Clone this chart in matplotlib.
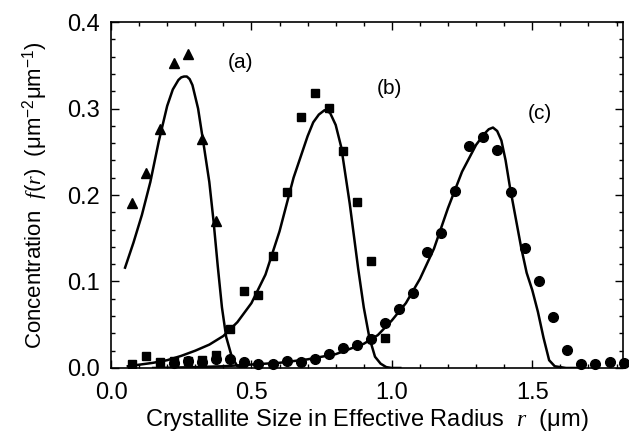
import matplotlib
matplotlib.use("Agg")
import matplotlib.pyplot as plt
from matplotlib.ticker import MultipleLocator

plt.rcParams['font.family'] = ['Liberation Sans', 'DejaVu Sans']
plt.rcParams['mathtext.fontset'] = 'custom'
plt.rcParams['mathtext.rm'] = 'Liberation Sans'
plt.rcParams['mathtext.it'] = 'Liberation Serif:italic'

# measured points (a) triangles
xa_pts = [0.075, 0.125, 0.175, 0.225, 0.275, 0.325, 0.375]
ya_pts = [0.191, 0.226, 0.276, 0.353, 0.363, 0.265, 0.170]

# measured points (b) squares
xb_pts = [0.075, 0.125, 0.175, 0.225, 0.275, 0.325, 0.375, 0.425, 0.475, 0.525,
          0.575, 0.625, 0.675, 0.725, 0.775, 0.825, 0.875, 0.925, 0.975]
yb_pts = [0.005, 0.014, 0.007, 0.008, 0.008, 0.009, 0.015, 0.045, 0.089, 0.084,
          0.130, 0.203, 0.290, 0.318, 0.301, 0.251, 0.192, 0.124, 0.035]

# measured points (c) circles
xc_pts = [0.225, 0.275, 0.325, 0.375, 0.425, 0.475, 0.525, 0.575, 0.625, 0.675,
          0.725, 0.775, 0.825, 0.875, 0.925, 0.975, 1.025, 1.075, 1.125, 1.175,
          1.225, 1.275, 1.325, 1.375, 1.425, 1.475, 1.525, 1.575, 1.625, 1.675,
          1.725, 1.775, 1.825]
yc_pts = [0.006, 0.008, 0.007, 0.010, 0.010, 0.007, 0.005, 0.005, 0.008, 0.007,
          0.010, 0.016, 0.023, 0.027, 0.034, 0.052, 0.068, 0.087, 0.134, 0.156,
          0.205, 0.257, 0.267, 0.252, 0.203, 0.139, 0.100, 0.059, 0.021, 0.005,
          0.005, 0.007, 0.006]

# fitted curves
xa_fit = [0.05, 0.08, 0.11, 0.14, 0.17, 0.20, 0.22, 0.24, 0.25, 0.26, 0.27,
          0.28, 0.29, 0.31, 0.33, 0.35, 0.365, 0.38, 0.395, 0.41, 0.43, 0.45,
          0.48]
ya_fit = [0.116, 0.145, 0.177, 0.215, 0.262, 0.303, 0.322, 0.333, 0.336, 0.337,
          0.337, 0.334, 0.327, 0.300, 0.258, 0.215, 0.170, 0.118, 0.070, 0.036,
          0.013, 0.002, 0.0]

xb_fit = [0.06, 0.15, 0.20, 0.25, 0.30, 0.35, 0.40, 0.45, 0.50, 0.55, 0.60, 0.65,
          0.70, 0.72, 0.74, 0.76, 0.78, 0.80, 0.82, 0.85, 0.88, 0.90, 0.92,
          0.94, 0.96, 0.98, 1.00, 1.03]
yb_fit = [0.002, 0.006, 0.009, 0.014, 0.020, 0.027, 0.037, 0.053, 0.075, 0.108,
          0.158, 0.220, 0.268, 0.284, 0.293, 0.298, 0.295, 0.281, 0.255, 0.190,
          0.115, 0.070, 0.035, 0.013, 0.005, 0.001, 0.0, 0.0]

xc_fit = [0.15, 0.30, 0.40, 0.50, 0.60, 0.70, 0.80, 0.90, 0.95, 1.00, 1.05, 1.10,
          1.15, 1.20, 1.25, 1.30, 1.33, 1.345, 1.36, 1.375, 1.39, 1.405, 1.42,
          1.44, 1.46, 1.48, 1.50, 1.52, 1.54, 1.56, 1.58, 1.62, 1.66]
yc_fit = [0.0, 0.001, 0.002, 0.004, 0.006, 0.010, 0.016, 0.028, 0.038, 0.055,
          0.075, 0.103, 0.138, 0.185, 0.227, 0.258, 0.271, 0.276, 0.278, 0.274,
          0.263, 0.240, 0.210, 0.175, 0.140, 0.110, 0.090, 0.065, 0.035, 0.009,
          0.002, 0.0, 0.0]

fig = plt.figure(figsize=(6.29, 4.36), dpi=100)
ax = fig.add_axes([0.1765, 0.156, 0.8135, 0.7935])

ax.plot(xa_fit, ya_fit, '-', color='black', lw=1.8)
ax.plot(xb_fit, yb_fit, '-', color='black', lw=1.8)
ax.plot(xc_fit, yc_fit, '-', color='black', lw=1.8)
ax.plot(xa_pts, ya_pts, '^', color='black', ms=7.5, ls='none')
ax.plot(xb_pts, yb_pts, 's', color='black', ms=6, ls='none')
ax.plot(xc_pts, yc_pts, 'o', color='black', ms=7, ls='none', clip_on=False)

ax.text(0.46, 0.353, "(a)", fontsize=15, ha='center', va='center')
ax.text(0.993, 0.323, "(b)", fontsize=15, ha='center', va='center')
ax.text(1.527, 0.294, "(c)", fontsize=15, ha='center', va='center')

ax.set_xlim(0, 1.822)
ax.set_ylim(0, 0.4)
ax.xaxis.set_major_locator(MultipleLocator(0.5))
ax.xaxis.set_minor_locator(MultipleLocator(0.1))
ax.yaxis.set_major_locator(MultipleLocator(0.1))
ax.yaxis.set_minor_locator(MultipleLocator(0.02))
ax.xaxis.set_major_formatter(plt.FormatStrFormatter('%.1f'))
ax.yaxis.set_major_formatter(plt.FormatStrFormatter('%.1f'))
ax.tick_params(which='both', direction='in', top=True, right=True, width=1.0)
ax.tick_params(which='major', length=6, labelsize=17)
ax.tick_params(axis='x', which='major', pad=10)
ax.tick_params(axis='y', which='major', pad=8)
ax.tick_params(which='minor', length=3)
for s in ax.spines.values():
    s.set_linewidth(1.2)

ax.set_xlabel(r"Crystallite Size in Effective Radius  $r$  (μm)", fontsize=17, labelpad=2)
ax.set_ylabel(r"Concentration  $f(r)$  (μm$^{-2}$μm$^{-1}$)", fontsize=16, labelpad=12)

fig.savefig("out.png", dpi=100)
